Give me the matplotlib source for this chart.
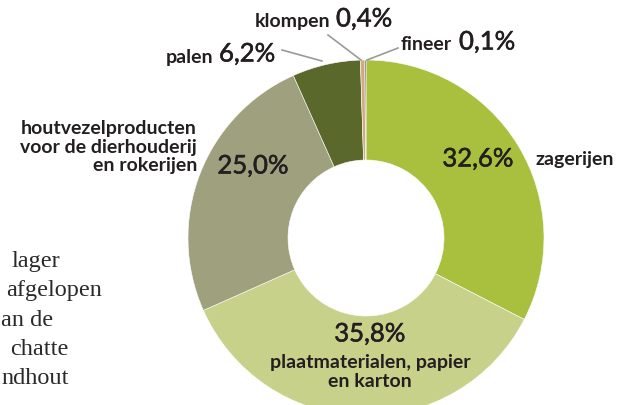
import matplotlib.pyplot as plt
import matplotlib.patheffects as pe

# aandeel rondhout per toepassing (%)
sectoren = ["zagerijen", "plaatmaterialen, papier\nen karton",
            "houtvezelproducten\nvoor de dierhouderij\nen rokerijen",
            "palen", "klompen", "fineer"]
aandeel = [32.6, 35.8, 25.0, 6.2, 0.4, 0.1]
kleuren = ["#a9c03f", "#c7d18a", "#9fa07d", "#5b682c", "#d3a97f", "#3b3f4e"]
waarden = ["32,6%", "35,8%", "25,0%", "6,2%", "0,4%", "0,1%"]

# afgekapte lopende tekst links
bodytekst = ["lager", "afgelopen", "an de", "chatte", "ndhout"]

fig = plt.figure(figsize=(6.21, 4.05), dpi=100)
ax = fig.add_axes([0, 0, 1, 1])

ax.pie(aandeel, colors=kleuren, startangle=-90, counterclock=True,
       center=(366, 238), radius=178,
       wedgeprops=dict(width=100, edgecolor="white", linewidth=0.4))

ax.set_xlim(0, 621)
ax.set_ylim(405, 0)
ax.set_aspect("equal")
ax.axis("off")

zwart = "#231f20"
label = dict(family="Lato", weight="bold", fontsize=14, color=zwart)
dikker = [pe.withStroke(linewidth=0.4, foreground=zwart)]
getal = dict(family="Lato", fontsize=18.5, color=zwart, path_effects=dikker)

# zagerijen
ax.text(478, 159, waarden[0], ha="center", va="center", **getal)
ax.text(535, 160, sectoren[0], ha="left", va="center", **label)

# plaatmaterialen
ax.text(370, 334, waarden[1], ha="center", va="center", **getal)
ax.text(370, 372, sectoren[1], ha="center", va="center",
        linespacing=1.1, **label)

# houtvezelproducten
ax.text(253, 166, waarden[2], ha="center", va="center", **getal)
ax.text(197, 147, sectoren[2], ha="right", va="center",
        linespacing=1.1, **label)

# palen
ax.text(213, 57, sectoren[3], ha="right", va="center", **label)
ax.text(219, 54, waarden[3], ha="left", va="center", **getal)
ax.plot([282, 322], [50, 61], color="#9a9a9a", lw=1.2)

# klompen
ax.text(330, 22, sectoren[4], ha="right", va="center", **label)
ax.text(336, 19, waarden[4], ha="left", va="center", **getal)
ax.plot([328, 361], [35, 60], color="#9a9a9a", lw=1.2)

# fineer
ax.text(452, 45, sectoren[5], ha="right", va="center", **label)
ax.text(459, 42, waarden[5], ha="left", va="center", **getal)
ax.plot([367, 398], [60, 48], color="#9a9a9a", lw=1.2)

# lopende tekst
xs = [12, 6, 1, 10, 1]
for i, regel in enumerate(bodytekst):
    ax.text(xs[i], 267 + i * 29.3, regel, ha="left", va="baseline",
            family="Liberation Serif", fontsize=17.5, color="#2a2a2a")

fig.savefig("out.png", dpi=100)
